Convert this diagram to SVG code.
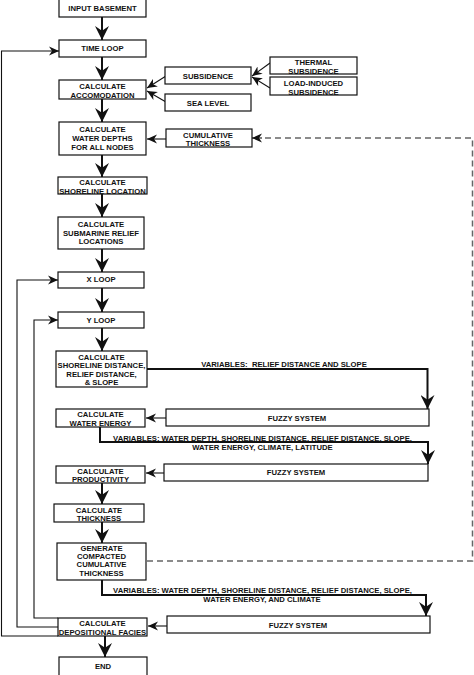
<svg xmlns="http://www.w3.org/2000/svg" width="474" height="675" viewBox="0 0 474 675">
<defs>
<style>
.box{fill:#fff;stroke:#111;stroke-width:1.2}
text{font-family:"Liberation Sans",Arial,sans-serif;font-weight:bold;font-size:7.7px;fill:#111;text-anchor:middle}
.main{stroke:#111;stroke-width:2;fill:none}
.thin{stroke:#111;stroke-width:1.1;fill:none}
.dash{stroke:#666;stroke-width:1.5;fill:none;stroke-dasharray:6 4}
</style>
<marker id="big" viewBox="0 0 12 12" refX="12" refY="6" markerWidth="14" markerHeight="14" markerUnits="userSpaceOnUse" orient="auto">
<path d="M0,0 L12,6 L0,12 L4,6 z" fill="#111"/>
</marker>
<marker id="small" viewBox="0 0 10 10" refX="10" refY="5" markerWidth="10" markerHeight="10" markerUnits="userSpaceOnUse" orient="auto">
<path d="M0,0.5 L10,5 L0,9.5 L3,5 z" fill="#111"/>
</marker>
</defs>
<rect width="474" height="675" fill="#fff"/>

<g id="connectors">
<line class="main" x1="102" y1="17" x2="102" y2="40" marker-end="url(#big)"/>
<line class="main" x1="102" y1="57" x2="102" y2="80" marker-end="url(#big)"/>
<line class="main" x1="102" y1="99" x2="102" y2="122" marker-end="url(#big)"/>
<line class="main" x1="102" y1="155" x2="102" y2="177" marker-end="url(#big)"/>
<line class="main" x1="102" y1="194" x2="102" y2="217" marker-end="url(#big)"/>
<line class="main" x1="102" y1="249" x2="102" y2="272" marker-end="url(#big)"/>
<line class="main" x1="102" y1="288" x2="102" y2="312" marker-end="url(#big)"/>
<line class="main" x1="102" y1="328" x2="102" y2="351" marker-end="url(#big)"/>
<line class="main" x1="102" y1="483" x2="102" y2="504" marker-end="url(#big)"/>
<line class="main" x1="102" y1="522" x2="102" y2="543" marker-end="url(#big)"/>
<line class="main" x1="105" y1="636" x2="105" y2="657" marker-end="url(#big)"/>

<line class="thin" x1="166" y1="76" x2="147" y2="88" marker-end="url(#small)"/>
<line class="thin" x1="166" y1="102" x2="147" y2="91" marker-end="url(#small)"/>
<line class="thin" x1="270" y1="63" x2="252" y2="76" marker-end="url(#small)"/>
<line class="thin" x1="270" y1="88" x2="252" y2="77" marker-end="url(#small)"/>
<line class="thin" x1="166" y1="139" x2="147" y2="139" marker-end="url(#small)"/>
<path class="dash" d="M147,561 H472.5 V138 H262"/>
<line class="thin" x1="262" y1="138" x2="252" y2="138" marker-end="url(#small)"/>

<line class="thin" x1="166" y1="418" x2="146" y2="418" marker-end="url(#small)"/>
<line class="thin" x1="164" y1="473" x2="146" y2="473" marker-end="url(#small)"/>
<line class="thin" x1="167" y1="626" x2="148" y2="626" marker-end="url(#small)"/>

<path class="main" d="M147,369 H427.5 V409" marker-end="url(#big)"/>
<path class="main" d="M100,427 V442 H428 V464" marker-end="url(#big)"/>
<path class="main" d="M102,580 V595 H426 V616" marker-end="url(#big)"/>

<path class="thin" d="M58,636 H1.5 V51 H59" marker-end="url(#small)"/>
<path class="thin" d="M58,627 H17 V280 H58" marker-end="url(#small)"/>
<path class="thin" d="M58,618 H34 V320 H58" marker-end="url(#small)"/>

<text x="284" y="366.5">VARIABLES:&#160; RELIEF DISTANCE AND SLOPE</text>
<text x="262.5" y="441">VARIABLES: WATER DEPTH, SHORELINE DISTANCE, RELIEF DISTANCE, SLOPE,</text>
<text x="262.5" y="449.5">WATER ENERGY, CLIMATE, LATITUDE</text>
<text x="262.5" y="593">VARIABLES: WATER DEPTH, SHORELINE DISTANCE, RELIEF DISTANCE, SLOPE,</text>
<text x="262" y="601.5">WATER ENERGY, AND CLIMATE</text>
</g>

<g id="input-basement"><rect class="box" x="59" y="-1" width="87" height="18"/><text x="102.5" y="11">INPUT BASEMENT</text></g>
<g id="time-loop"><rect class="box" x="59" y="40" width="87" height="17"/><text x="102.5" y="51">TIME LOOP</text></g>
<g id="calc-accomodation"><rect class="box" x="59" y="80" width="87" height="19"/><text x="102.5" y="89">CALCULATE</text><text x="102.5" y="97.5">ACCOMODATION</text></g>
<g id="subsidence"><rect class="box" x="165" y="67" width="86" height="17"/><text x="208" y="78.5">SUBSIDENCE</text></g>
<g id="sea-level"><rect class="box" x="165" y="94" width="86" height="17"/><text x="208" y="106">SEA LEVEL</text></g>
<g id="thermal-subsidence"><rect class="box" x="270" y="57" width="87" height="17"/><text x="313.5" y="65">THERMAL</text><text x="313.5" y="73.5">SUBSIDENCE</text></g>
<g id="load-induced-subsidence"><rect class="box" x="270" y="77" width="87" height="18"/><text x="313.5" y="86">LOAD-INDUCED</text><text x="313.5" y="94.5">SUBSIDENCE</text></g>
<g id="calc-water-depths"><rect class="box" x="59" y="122" width="87" height="33"/><text x="102.5" y="132">CALCULATE</text><text x="102.5" y="140.5">WATER DEPTHS</text><text x="102.5" y="149.5">FOR ALL NODES</text></g>
<g id="cumulative-thickness"><rect class="box" x="166" y="129" width="86" height="18"/><text x="208" y="137.8">CUMULATIVE</text><text x="208" y="146.3">THICKNESS</text></g>
<g id="calc-shoreline-location"><rect class="box" x="58" y="177" width="89" height="17"/><text x="102.5" y="185">CALCULATE</text><text x="102.5" y="193.5">SHORELINE LOCATION</text></g>
<g id="calc-submarine-relief"><rect class="box" x="58" y="217" width="86" height="32"/><text x="101" y="226.8">CALCULATE</text><text x="101" y="235.5">SUBMARINE RELIEF</text><text x="101" y="243.8">LOCATIONS</text></g>
<g id="x-loop"><rect class="box" x="58" y="272" width="86" height="16"/><text x="101" y="282">X LOOP</text></g>
<g id="y-loop"><rect class="box" x="58" y="312" width="86" height="16"/><text x="101" y="322.8">Y LOOP</text></g>
<g id="calc-shoreline-distance"><rect class="box" x="56" y="351" width="91" height="36"/><text x="101.5" y="359.5">CALCULATE</text><text x="101.5" y="367.8">SHORELINE DISTANCE,</text><text x="101.5" y="376.8">RELIEF DISTANCE,</text><text x="101.5" y="385">&amp; SLOPE</text></g>
<g id="fuzzy-1"><rect class="box" x="166" y="409" width="263" height="17"/><text x="297" y="420.5">FUZZY SYSTEM</text></g>
<g id="calc-water-energy"><rect class="box" x="56" y="409" width="89" height="18"/><text x="100.5" y="416.8">CALCULATE</text><text x="100.5" y="425.5">WATER ENERGY</text></g>
<g id="fuzzy-2"><rect class="box" x="164" y="464" width="264" height="17"/><text x="296" y="475.3">FUZZY SYSTEM</text></g>
<g id="calc-productivity"><rect class="box" x="56" y="466" width="89" height="17"/><text x="100.5" y="473.5">CALCULATE</text><text x="100.5" y="481.8">PRODUCTIVITY</text></g>
<g id="calc-thickness"><rect class="box" x="54" y="504" width="90" height="18"/><text x="99" y="512.8">CALCULATE</text><text x="99" y="521">THICKNESS</text></g>
<g id="generate-compacted"><rect class="box" x="57" y="543" width="89" height="37"/><text x="101.5" y="550.5">GENERATE</text><text x="101.5" y="558.8">COMPACTED</text><text x="101.5" y="567">CUMULATIVE</text><text x="101.5" y="576">THICKNESS</text></g>
<g id="fuzzy-3"><rect class="box" x="167" y="616" width="263" height="17"/><text x="298" y="627.8">FUZZY SYSTEM</text></g>
<g id="calc-depositional-facies"><rect class="box" x="58" y="618" width="89" height="18"/><text x="102.5" y="625.5">CALCULATE</text><text x="102.5" y="634.5">DEPOSITIONAL FACIES</text></g>
<g id="end"><rect class="box" x="59" y="657" width="88" height="19"/><text x="103" y="668.5">END</text></g>
</svg>
